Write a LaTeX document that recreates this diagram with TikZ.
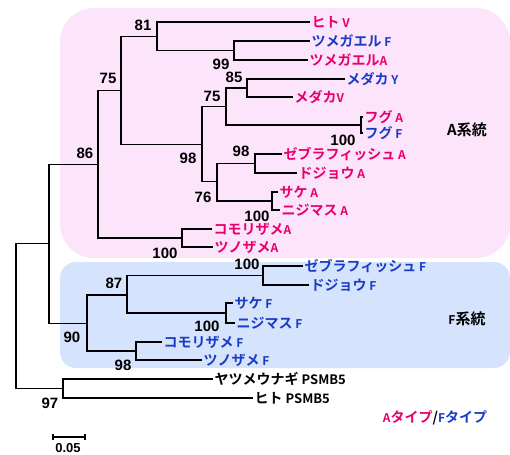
\documentclass[tikz,border=0pt]{standalone}
\usepackage{fontspec}
\setmainfont{Liberation Sans}
\newfontfamily\jp{Noto Sans CJK JP}[BoldFont={Noto Sans CJK JP Bold}]
\usetikzlibrary{calc}
\definecolor{pk}{RGB}{232,0,110}
\definecolor{bl}{RGB}{25,60,200}
\definecolor{pinkbg}{RGB}{252,228,251}
\definecolor{bluebg}{RGB}{213,227,252}
\newcommand\sfx[1]{{\fontsize{12}{12}\selectfont #1}}
\begin{document}
\begin{tikzpicture}[x=1pt,y=-1pt,
  br/.style={line width=1.8pt, line join=miter},
  leaf/.style={anchor=west, inner xsep=1.5pt, inner ysep=0pt, text height=10.6pt, text depth=0pt,
    font=\jp\bfseries\fontsize{14}{14}\selectfont},
  pl/.style={leaf, text=pk},
  bll/.style={leaf, text=bl},
  bkl/.style={leaf, text=black},
  bs/.style={inner sep=0pt, font=\bfseries\fontsize{15}{15}\selectfont},
  clade/.style={inner sep=0pt, font=\jp\bfseries\fontsize{15}{15}\selectfont}]
\useasboundingbox (0,0) rectangle (510,454);
% clade backgrounds
\fill[pinkbg, rounded corners=34pt] (60,8) rectangle (510,258);
\fill[bluebg, rounded corners=16pt] (60,262) rectangle (510,368);
% internal nodes
\coordinate (R) at (16,316.5);
\coordinate (c1) at (49,243.5);
\coordinate (c2) at (98,164.5);
\coordinate (c3) at (121,90.5);
\coordinate (c4) at (157,36.5);
\coordinate (c5) at (234,50.5);
\coordinate (c6) at (202,144.5);
\coordinate (c7) at (226,106.5);
\coordinate (c8) at (247,88);
\coordinate (c9) at (361,125);
\coordinate (c10) at (217,181.5);
\coordinate (c11) at (255,163.5);
\coordinate (c12) at (272,201);
\coordinate (c13) at (182,238);
\coordinate (c14) at (87,323.5);
\coordinate (c15) at (127,295);
\coordinate (c16) at (263,275.5);
\coordinate (c17) at (226,313);
\coordinate (c18) at (136,351);
\coordinate (c19) at (63,388.5);
% leaves
\node[pl]  (l1)  at (310,22)  {ヒト\sfx{ V}};
\node[bll] (l2)  at (310,41)  {ツメガエル\sfx{ F}};
\node[pl]  (l3)  at (308,60)  {ツメガエル\sfx{A}};
\node[bll] (l4)  at (345,79)  {メダカ\sfx{ Y}};
\node[pl]  (l5)  at (293,97)  {メダカ\sfx{V}};
\node[pl]  (l6)  at (363,117) {フグ\sfx{ A}};
\node[bll] (l7)  at (363,133) {フグ\sfx{ F}};
\node[pl]  (l8)  at (282,154) {ゼブラフィッシュ\sfx{ A}};
\node[pl]  (l9)  at (297,173) {ドジョウ\sfx{ A}};
\node[pl]  (l10) at (278,192) {サケ\sfx{ A}};
\node[pl]  (l11) at (280,210) {ニジマス\sfx{ A}};
\node[pl]  (l12) at (212,229) {コモリザメ\sfx{A}};
\node[pl]  (l13) at (213,247) {ツノザメ\sfx{A}};
\node[bll] (l14) at (303,266) {ゼブラフィッシュ\sfx{ F}};
\node[bll] (l15) at (309,285) {ドジョウ\sfx{ F}};
\node[bll] (l16) at (233,303) {サケ\sfx{ F}};
\node[bll] (l17) at (235,323) {ニジマス\sfx{ F}};
\node[bll] (l18) at (162,342) {コモリザメ\sfx{ F}};
\node[bll] (l19) at (202,360) {ツノザメ\sfx{ F}};
\node[bkl] (l20) at (213,379) {ヤツメウナギ{\fontsize{13}{13}\selectfont\ PSMB5}};
\node[bkl] (l21) at (253,398) {ヒト{\fontsize{13}{13}\selectfont\ PSMB5}};
% branches
\foreach \p/\c in {R/c1, R/c19, c1/c2, c1/c14, c2/c3, c2/c13, c3/c4, c3/c6,
  c4/l1.west, c4/c5, c5/l2.west, c5/l3.west, c6/c7, c6/c10, c7/c8, c7/c9,
  c8/l4.west, c8/l5.west, c9/l6.west, c9/l7.west, c10/c11, c10/c12,
  c11/l8.west, c11/l9.west, c12/l10.west, c12/l11.west, c13/l12.west, c13/l13.west,
  c14/c15, c14/c18, c15/c16, c15/c17, c16/l14.west, c16/l15.west,
  c17/l16.west, c17/l17.west, c18/l18.west, c18/l19.west, c19/l20.west, c19/l21.west}
  \draw[br] (\p) |- (\c);
% bootstrap values
\node[bs] (b1) at (143,25) {81};
\node[bs] (b2) at (221,64) {99};
\node[bs] (b3) at (234,77) {85};
\node[bs] (b4) at (212,96) {75};
\node[bs] (b5) at (108,78) {75};
\node[bs] (b6) at (85,153) {86};
\node[bs] (b7) at (188,158) {98};
\node[bs] (b8) at (241,151) {98};
\node[bs] (b9) at (203,197) {76};
\node[bs] (b10) at (343,140) {100};
\node[bs] (b11) at (257,216) {100};
\node[bs] (b12) at (165,253) {100};
\node[bs] (b13) at (247,264) {100};
\node[bs] (b14) at (114,283) {87};
\node[bs] (b15) at (207,326) {100};
\node[bs] (b16) at (72,337) {90};
\node[bs] (b17) at (123,365) {98};
\node[bs] (b18) at (50,403) {97};
% clade labels
\node[clade] (ca) at (467,130) {A系統};
\node[clade] (cf) at (467,319) {\sfx{F}系統};
% legend
\node[inner sep=0pt, font=\jp\bfseries\fontsize{14}{14}\selectfont] (lg) at (435,418)
  {\textcolor{pk}{\sfx{A}タイプ}/\textcolor{bl}{\sfx{F}タイプ}};
% scale bar
\coordinate (s1) at (53,437);
\coordinate (s2) at (85,437);
\draw[line width=1.8pt] (s1) -- (s2);
\draw[line width=1.3pt] ($(s1)+(0,-3)$) -- ($(s1)+(0,3)$);
\draw[line width=1.3pt] ($(s2)+(0,-3)$) -- ($(s2)+(0,3)$);
\node[bs, font=\bfseries\fontsize{13}{13}\selectfont] (sl) at (68,448) {0.05};
\end{tikzpicture}
\end{document}
